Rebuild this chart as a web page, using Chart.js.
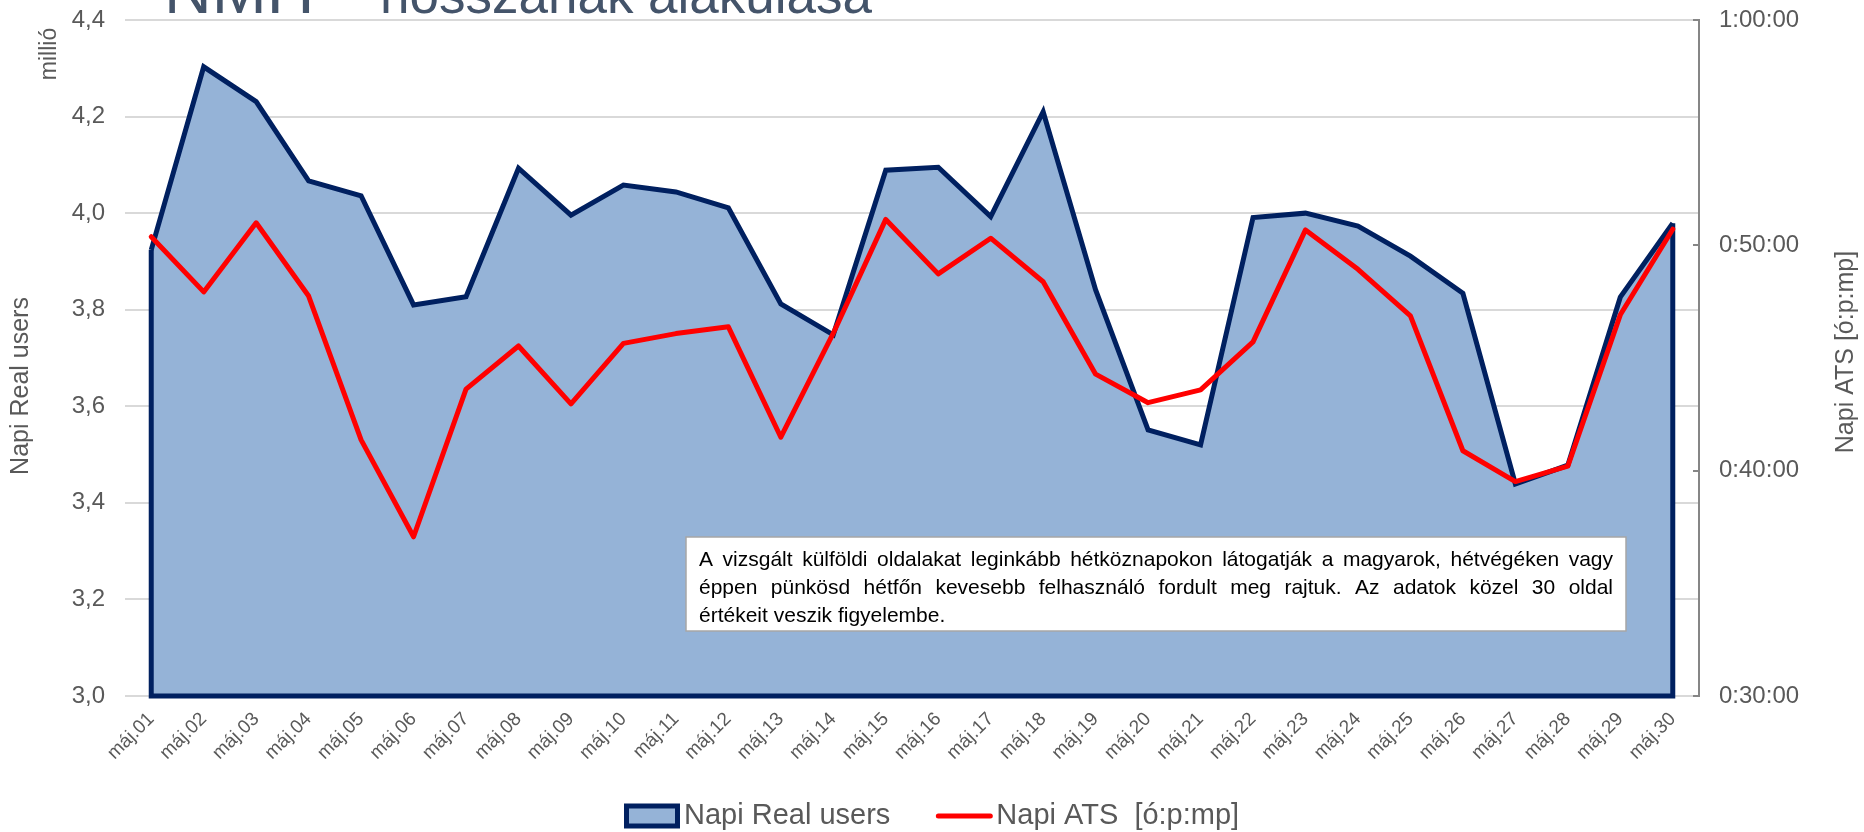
<!DOCTYPE html>
<html lang="hu">
<head>
<meta charset="utf-8">
<title>Napi Real users és ATS – május</title>
<script src="https://cdn.jsdelivr.net/npm/chart.js@4.4.1/dist/chart.umd.min.js"></script>
<style>
  html, body { margin: 0; padding: 0; background: #fff; }
  #wrap { width: 1864px; height: 832px; }
</style>
</head>
<body>
<div id="wrap"><canvas id="chart" width="1864" height="832"></canvas></div>
<script>
// napok (kategóriák)
const days = ['máj.01', 'máj.02', 'máj.03', 'máj.04', 'máj.05', 'máj.06', 'máj.07', 'máj.08', 'máj.09', 'máj.10',
  'máj.11', 'máj.12', 'máj.13', 'máj.14', 'máj.15', 'máj.16', 'máj.17', 'máj.18', 'máj.19', 'máj.20',
  'máj.21', 'máj.22', 'máj.23', 'máj.24', 'máj.25', 'máj.26', 'máj.27', 'máj.28', 'máj.29', 'máj.30'];

// Napi Real users (millió)
const realUsers = [3.924, 4.303, 4.231, 4.067, 4.036, 3.810, 3.827, 4.093, 3.996, 4.058,
  4.044, 4.011, 3.812, 3.748, 4.089, 4.095, 3.993, 4.210, 3.841, 3.551,
  3.520, 3.991, 4.000, 3.973, 3.911, 3.834, 3.439, 3.478, 3.826, 3.979];

// Napi ATS [ó:p:mp]
const atsTimes = ['0:50:23', '0:47:56', '0:51:00', '0:47:45', '0:41:22', '0:37:04', '0:43:37', '0:45:32', '0:42:58', '0:45:39',
  '0:46:05', '0:46:23', '0:41:29', '0:46:06', '0:51:09', '0:48:44', '0:50:19', '0:48:23', '0:44:17', '0:43:01',
  '0:43:35', '0:45:43', '0:50:41', '0:48:56', '0:46:52', '0:40:53', '0:39:31', '0:40:12', '0:46:55', '0:50:43'];

const noteLines = [
  'A vizsgált külföldi oldalakat leginkább hétköznapokon látogatják a magyarok, hétvégéken vagy',
  'éppen pünkösd hétfőn kevesebb felhasználó fordult meg rajtuk. Az adatok közel 30 oldal',
  'értékeit veszik figyelembe.'
];

const NAVY = '#002060';
const AREA = '#95B3D7';
const RED = '#FF0000';
const GREY_TEXT = '#595959';
const FONT = '"Liberation Sans", Arial, sans-serif';
const LEGEND_H = 56;

// idő -> perc
const atsMinutes = atsTimes.map(t => {
  const [h, m, s] = t.split(':').map(Number);
  return h * 60 + m + s / 60;
});

function fmtTime(min) {
  const total = Math.round(min * 60);
  const h = Math.floor(total / 3600);
  const m = Math.floor((total % 3600) / 60);
  const s = total % 60;
  return h + ':' + String(m).padStart(2, '0') + ':' + String(s).padStart(2, '0');
}

// --- extra rajzok: terület körvonal, címek, jelmagyarázat, szövegdoboz ---
const extras = {
  id: 'extras',
  afterDatasetDraw(chart, args) {
    if (args.index !== 0) return;
    const { ctx, scales: { y } } = chart;
    const pts = args.meta.data;
    const first = pts[0], last = pts[pts.length - 1];
    const base = y.getPixelForValue(y.min);
    ctx.save();
    ctx.strokeStyle = NAVY;
    ctx.lineWidth = 5;
    ctx.beginPath();
    ctx.moveTo(first.x, first.y);
    ctx.lineTo(first.x, base);
    ctx.lineTo(last.x, base);
    ctx.lineTo(last.x, last.y);
    ctx.stroke();
    ctx.restore();
  },
  afterDraw(chart) {
    const { ctx, chartArea: a, scales: { y1 } } = chart;
    ctx.save();

    // levágott főcím
    ctx.fillStyle = '#44546A';
    ctx.textBaseline = 'alphabetic';
    ctx.font = '66px ' + FONT;
    ctx.fillText('NMH', 164, 13);
    ctx.font = '53px ' + FONT;
    ctx.fillText('hosszának alakulása', 380, 13);

    // tengelycímek
    ctx.fillStyle = GREY_TEXT;
    ctx.textAlign = 'center';
    ctx.textBaseline = 'middle';
    ctx.save();
    ctx.translate(21, 386);
    ctx.rotate(-Math.PI / 2);
    ctx.font = '25px ' + FONT;
    ctx.fillText('Napi Real users', 0, 0);
    ctx.restore();

    ctx.save();
    ctx.translate(50, 54);
    ctx.rotate(-Math.PI / 2);
    ctx.font = '23px ' + FONT;
    ctx.fillText('millió', 0, 0);
    ctx.restore();

    ctx.save();
    ctx.translate(1846, 352);
    ctx.rotate(-Math.PI / 2);
    ctx.font = '25px ' + FONT;
    ctx.fillText('Napi ATS [ó:p:mp]', 0, 0);
    ctx.restore();

    // jobb tengely befelé mutató jelölői
    ctx.strokeStyle = '#868686';
    ctx.lineWidth = 2;
    y1.ticks.forEach((t, i) => {
      const py = Math.round(y1.getPixelForTick(i));
      ctx.beginPath();
      ctx.moveTo(a.right - 6, py);
      ctx.lineTo(a.right, py);
      ctx.stroke();
    });

    // jelmagyarázat
    const [dsArea, dsLine] = chart.data.datasets;
    ctx.font = '29px ' + FONT;
    ctx.textAlign = 'left';
    ctx.textBaseline = 'middle';
    const symW = 56, symGap = 4, itemGap = 46;
    const w1 = ctx.measureText(dsArea.label).width;
    const w2 = ctx.measureText(dsLine.label).width;
    const total = symW + symGap + w1 + itemGap + symW + symGap + w2;
    let lx = Math.round((chart.width - total) / 2);
    const ly = 816;
    ctx.fillStyle = dsArea.backgroundColor;
    ctx.strokeStyle = dsArea.borderColor;
    ctx.lineWidth = 5;
    ctx.fillRect(lx + 2.5, ly - 10, symW - 5, 20);
    ctx.strokeRect(lx + 2.5, ly - 10, symW - 5, 20);
    lx += symW + symGap;
    ctx.fillStyle = GREY_TEXT;
    ctx.fillText(dsArea.label, lx, ly);
    lx += w1 + itemGap;
    ctx.strokeStyle = dsLine.borderColor;
    ctx.lineWidth = 5;
    ctx.lineCap = 'round';
    ctx.beginPath();
    ctx.moveTo(lx + 2, ly);
    ctx.lineTo(lx + symW - 2, ly);
    ctx.stroke();
    lx += symW + symGap;
    ctx.fillText(dsLine.label, lx, ly);

    // megjegyzés doboz
    const bx = 686, by = 537, bw = 940, bh = 94;
    ctx.fillStyle = '#FFFFFF';
    ctx.fillRect(bx, by, bw, bh);
    ctx.strokeStyle = '#A6A6A6';
    ctx.lineWidth = 1.5;
    ctx.strokeRect(bx, by, bw, bh);

    ctx.fillStyle = '#000000';
    ctx.textAlign = 'left';
    ctx.textBaseline = 'alphabetic';
    const tx = 699, tw = 914;
    let size = 22;
    ctx.font = size + 'px ' + FONT;
    while (ctx.measureText(noteLines[0]).width > tw - 30 && size > 12) {
      size -= 0.5;
      ctx.font = size + 'px ' + FONT;
    }
    noteLines.forEach((line, li) => {
      const ly2 = 566 + li * 28;
      if (li === noteLines.length - 1) { ctx.fillText(line, tx, ly2); return; }
      const words = line.split(' ');
      const ww = words.reduce((s, w) => s + ctx.measureText(w).width, 0);
      const gap = (tw - ww) / (words.length - 1);
      let cx = tx;
      words.forEach(w => {
        ctx.fillText(w, cx, ly2);
        cx += ctx.measureText(w).width + gap;
      });
    });

    ctx.restore();
  }
};

// függőleges tengelyek: fix szélesség, címkék miatti plusz térköz nélkül
function fixVertical(width) {
  return s => {
    s.width = width;
    s.paddingTop = 0;
    s.paddingBottom = 0;
  };
}

const ctx = document.getElementById('chart').getContext('2d');
const chart = new Chart(ctx, {
  type: 'line',
  data: {
    labels: days,
    datasets: [{
      label: 'Napi Real users',
      data: realUsers,
      yAxisID: 'y',
      fill: 'start',
      backgroundColor: AREA,
      borderColor: NAVY,
      borderWidth: 5,
      borderJoinStyle: 'miter',
      pointRadius: 0,
      tension: 0,
      order: 1
    }, {
      label: 'Napi ATS  [ó:p:mp]',
      data: atsMinutes,
      yAxisID: 'y1',
      fill: false,
      borderColor: RED,
      borderWidth: 5,
      borderJoinStyle: 'round',
      borderCapStyle: 'round',
      pointRadius: 0,
      tension: 0,
      order: 0
    }]
  },
  options: {
    responsive: false,
    animation: false,
    layout: { padding: { top: 20, left: 0, right: 0, bottom: LEGEND_H } },
    plugins: {
      tooltip: { enabled: false },
      legend: { display: false }
    },
    scales: {
      x: {
        offset: true,
        grid: { display: false, drawTicks: false },
        border: { display: false },
        ticks: {
          color: GREY_TEXT,
          font: { family: FONT, size: 19 },
          minRotation: 45,
          maxRotation: 45,
          autoSkip: false,
          padding: 12
        },
        afterFit(s) { s.height = s.chart.height - LEGEND_H - 696; }
      },
      y: {
        position: 'left',
        min: 3.0,
        max: 4.4,
        grid: { color: '#D9D9D9', lineWidth: 2, drawTicks: false },
        border: { display: false },
        ticks: {
          stepSize: 0.2,
          padding: 20,
          color: GREY_TEXT,
          font: { family: FONT, size: 24 },
          callback: v => v.toFixed(1).replace('.', ',')
        },
        afterFit: fixVertical(125)
      },
      y1: {
        position: 'right',
        min: 30,
        max: 60,
        grid: { drawOnChartArea: false, drawTicks: false },
        border: { display: true, color: '#868686', width: 2 },
        ticks: {
          stepSize: 10,
          padding: 20,
          color: GREY_TEXT,
          font: { family: FONT, size: 24 },
          callback: v => fmtTime(v)
        },
        afterFit: fixVertical(165)
      }
    }
  },
  plugins: [extras]
});
</script>
</body>
</html>
